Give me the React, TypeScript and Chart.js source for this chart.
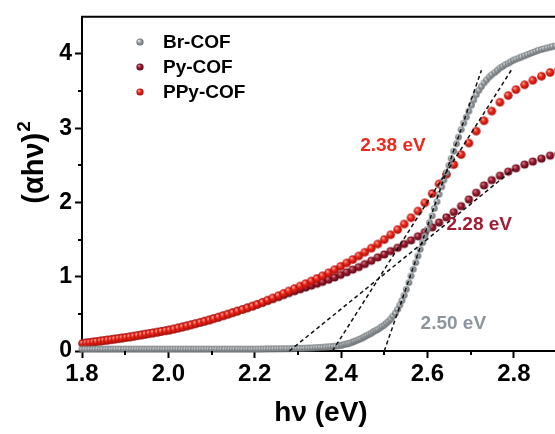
import React, { useEffect, useRef } from 'react';
import { Chart, registerables } from 'chart.js';
Chart.register(...registerables);

// photon energies (eV) of the coloured series
const energy3 = [
  1.802, 1.810, 1.818, 1.826, 1.834, 1.843, 1.851, 1.859, 1.868, 1.876,
  1.885, 1.893, 1.902, 1.911, 1.920, 1.929, 1.938, 1.947, 1.956, 1.965,
  1.975, 1.984, 1.994, 2.003, 2.013, 2.023, 2.033, 2.043, 2.053, 2.063,
  2.074, 2.084, 2.095, 2.105, 2.116, 2.127, 2.138, 2.149, 2.160, 2.172,
  2.183, 2.195, 2.206, 2.218, 2.230, 2.242, 2.255, 2.267, 2.279, 2.292,
  2.305, 2.318, 2.331, 2.344, 2.357, 2.371, 2.385, 2.399, 2.413, 2.427,
  2.441, 2.455, 2.470, 2.485, 2.500, 2.515, 2.531, 2.546, 2.562, 2.578,
  2.594, 2.611, 2.627, 2.644, 2.661, 2.678, 2.696, 2.713, 2.731, 2.749,
  2.768, 2.787, 2.805, 2.825, 2.844, 2.864, 2.884, 2.904,
];

const ppyCOF = [
  0.102, 0.108, 0.114, 0.121, 0.127, 0.134, 0.141, 0.147, 0.154, 0.161,
  0.168, 0.175, 0.182, 0.190, 0.199, 0.208, 0.217, 0.226, 0.235, 0.244,
  0.254, 0.264, 0.274, 0.283, 0.296, 0.310, 0.324, 0.338, 0.353, 0.368,
  0.385, 0.401, 0.418, 0.436, 0.455, 0.475, 0.495, 0.516, 0.537, 0.559,
  0.581, 0.604, 0.627, 0.655, 0.685, 0.715, 0.745, 0.776, 0.808, 0.840,
  0.874, 0.907, 0.942, 0.977, 1.013, 1.053, 1.095, 1.140, 1.185, 1.232,
  1.280, 1.330, 1.385, 1.440, 1.500, 1.565, 1.635, 1.710, 1.795, 1.885,
  1.995, 2.120, 2.250, 2.380, 2.510, 2.645, 2.800, 2.960, 3.100, 3.230,
  3.350, 3.440, 3.520, 3.585, 3.645, 3.700, 3.750, 3.790,
];

const pyCOF = [
  0.102, 0.108, 0.114, 0.121, 0.127, 0.134, 0.141, 0.147, 0.154, 0.161,
  0.168, 0.175, 0.182, 0.190, 0.199, 0.208, 0.217, 0.226, 0.235, 0.244,
  0.254, 0.264, 0.274, 0.283, 0.296, 0.310, 0.324, 0.338, 0.353, 0.368,
  0.385, 0.401, 0.418, 0.436, 0.455, 0.475, 0.495, 0.516, 0.537, 0.559,
  0.581, 0.604, 0.627, 0.650, 0.675, 0.700, 0.727, 0.753, 0.780, 0.805,
  0.830, 0.855, 0.880, 0.905, 0.930, 0.960, 0.990, 1.025, 1.060, 1.095,
  1.130, 1.170, 1.215, 1.260, 1.300, 1.345, 1.390, 1.440, 1.490, 1.545,
  1.600, 1.665, 1.730, 1.800, 1.870, 1.950, 2.040, 2.130, 2.230, 2.300,
  2.360, 2.415, 2.460, 2.510, 2.550, 2.590, 2.630, 2.660,
];

// Br-COF, dense sampling
const brEnergyLow = [
  1.800, 1.806, 1.812, 1.818, 1.824, 1.830, 1.836, 1.842, 1.848, 1.854,
  1.860, 1.866, 1.872, 1.878, 1.884, 1.890, 1.896, 1.902, 1.908, 1.914,
  1.920, 1.926, 1.932, 1.938, 1.944, 1.950, 1.956, 1.962, 1.968, 1.974,
  1.980, 1.986, 1.992, 1.998, 2.004, 2.010, 2.016, 2.022, 2.028, 2.034,
  2.040, 2.046, 2.052, 2.058, 2.064, 2.070, 2.076, 2.082, 2.088, 2.094,
  2.100, 2.106, 2.112, 2.118, 2.124, 2.130, 2.136, 2.142, 2.148, 2.154,
  2.160, 2.166, 2.172, 2.178, 2.184, 2.190, 2.196, 2.202, 2.208, 2.214,
  2.220, 2.226, 2.232, 2.238, 2.244, 2.250, 2.256, 2.262, 2.268, 2.274,
  2.280, 2.286, 2.292, 2.298, 2.304, 2.310, 2.316, 2.322, 2.328, 2.334,
  2.340, 2.346, 2.352, 2.358, 2.364, 2.370, 2.376, 2.382, 2.388, 2.394,
  2.400,
];

const brCOFLow = [
  0.025, 0.025, 0.025, 0.025, 0.025, 0.025, 0.025, 0.025, 0.025, 0.025,
  0.025, 0.025, 0.025, 0.025, 0.025, 0.025, 0.025, 0.025, 0.025, 0.025,
  0.025, 0.025, 0.025, 0.025, 0.025, 0.025, 0.025, 0.025, 0.025, 0.025,
  0.025, 0.025, 0.025, 0.025, 0.025, 0.025, 0.025, 0.025, 0.025, 0.025,
  0.025, 0.025, 0.025, 0.025, 0.025, 0.025, 0.025, 0.025, 0.025, 0.025,
  0.025, 0.025, 0.025, 0.025, 0.025, 0.025, 0.025, 0.025, 0.025, 0.025,
  0.025, 0.025, 0.025, 0.025, 0.025, 0.025, 0.025, 0.025, 0.025, 0.026,
  0.026, 0.027, 0.027, 0.028, 0.028, 0.029, 0.029, 0.030, 0.030, 0.031,
  0.031, 0.032, 0.033, 0.034, 0.035, 0.036, 0.037, 0.039, 0.040, 0.042,
  0.044, 0.046, 0.048, 0.050, 0.053, 0.056, 0.059, 0.062, 0.066, 0.070,
  0.075,
];

const brEnergyHigh = [
  2.403, 2.408, 2.413, 2.417, 2.422, 2.427, 2.431, 2.436, 2.441, 2.446,
  2.451, 2.455, 2.460, 2.465, 2.470, 2.475, 2.480, 2.485, 2.490, 2.495,
  2.500, 2.505, 2.510, 2.515, 2.520, 2.526, 2.531, 2.536, 2.541, 2.546,
  2.551, 2.557, 2.562, 2.567, 2.573, 2.578, 2.583, 2.589, 2.594, 2.600,
  2.605, 2.611, 2.616, 2.622, 2.627, 2.633, 2.638, 2.644, 2.650, 2.655,
  2.661, 2.667, 2.672, 2.678, 2.684, 2.690, 2.696, 2.702, 2.707, 2.713,
  2.719, 2.725, 2.731, 2.737, 2.743, 2.749, 2.756, 2.762, 2.768, 2.774,
  2.780, 2.787, 2.793, 2.799, 2.805, 2.812, 2.818, 2.825, 2.831, 2.838,
  2.844, 2.851, 2.857, 2.864, 2.870, 2.877, 2.884, 2.890, 2.897, 2.904,
];

const brCOFHigh = [
  0.080, 0.090, 0.095, 0.100, 0.110, 0.120, 0.130, 0.140, 0.155, 0.165,
  0.180, 0.195, 0.210, 0.225, 0.240, 0.260, 0.275, 0.290, 0.310, 0.330,
  0.350, 0.375, 0.400, 0.430, 0.470, 0.510, 0.560, 0.620, 0.680, 0.750,
  0.830, 0.920, 1.010, 1.100, 1.190, 1.280, 1.370, 1.460, 1.550, 1.640,
  1.730, 1.820, 1.920, 2.010, 2.110, 2.210, 2.300, 2.400, 2.500, 2.590,
  2.690, 2.790, 2.880, 2.980, 3.070, 3.150, 3.230, 3.310, 3.380, 3.450,
  3.510, 3.560, 3.610, 3.650, 3.690, 3.720, 3.750, 3.780, 3.810, 3.830,
  3.855, 3.875, 3.895, 3.915, 3.930, 3.945, 3.960, 3.975, 3.990, 4.005,
  4.020, 4.035, 4.050, 4.060, 4.070, 4.080, 4.090, 4.100, 4.110, 4.120,
];

// Tauc-plot tangent lines (x-intercepts = band gaps)
const tangentBr = [{ x: 2.50, y: 0 }, { x: 2.725, y: 3.78 }];
const tangentPPy = [{ x: 2.38, y: 0 }, { x: 2.794, y: 3.78 }];
const tangentPy = [{ x: 2.28, y: 0 }, { x: 2.80, y: 2.45 }];

const seriesNames = ['Br-COF', 'Py-COF', 'PPy-COF'];
const gapLabels = [
  { text: '2.38 eV', x: 2.52, y: 2.77 },
  { text: '2.28 eV', x: 2.72, y: 1.70 },
  { text: '2.50 eV', x: 2.66, y: 0.37 },
];

const xTicks = [1.8, 2.0, 2.2, 2.4, 2.6, 2.8];
const yTicks = [0, 1, 2, 3, 4];
const xMinorTicks = [1.9, 2.1, 2.3, 2.5, 2.7];
const yMinorTicks = [0.5, 1.5, 2.5, 3.5];

const FONT = "'Liberation Sans', Arial, Helvetica, sans-serif";
const COLORS = {
  br: { base: '#9a9fa3', light: '#eef1f2', dark: '#676d71', text: '#8b959b' },
  py: { base: '#9c1c30', light: '#e08a98', dark: '#5a0714', text: '#a11d33' },
  ppy: { base: '#ee261b', light: '#ffb0a4', dark: '#a80c06', text: '#ee2a1f' },
};

function sphere(r: number, c: { base: string; light: string; dark: string }) {
  const cv = document.createElement('canvas');
  const s = Math.ceil(r * 2) + 2;
  cv.width = s;
  cv.height = s;
  const g = cv.getContext('2d')!;
  const cx = s / 2;
  const cy = s / 2;
  const grad = g.createRadialGradient(cx - r * 0.35, cy - r * 0.4, r * 0.05, cx, cy, r);
  grad.addColorStop(0, c.light);
  grad.addColorStop(0.45, c.base);
  grad.addColorStop(1, c.dark);
  g.fillStyle = grad;
  g.beginPath();
  g.arc(cx, cy, r, 0, Math.PI * 2);
  g.fill();
  return cv;
}

export default function App() {
  const ref = useRef<HTMLCanvasElement | null>(null);

  useEffect(() => {
    const canvas = ref.current!;
    const brDot = sphere(3.3, COLORS.br);
    const pyDot = sphere(4.1, COLORS.py);
    const ppyDot = sphere(4.3, COLORS.ppy);
    const legendDots = [sphere(3.6, COLORS.br), sphere(3.6, COLORS.py), sphere(3.6, COLORS.ppy)];

    const brData = [
      ...brCOFLow.map((y, i) => ({ x: brEnergyLow[i], y })),
      ...brCOFHigh.map((y, i) => ({ x: brEnergyHigh[i], y })),
    ];
    const pyData = pyCOF.map((y, i) => ({ x: energy3[i], y }));
    const ppyData = ppyCOF.map((y, i) => ({ x: energy3[i], y }));

    const dashed = {
      showLine: true,
      borderColor: '#111',
      borderWidth: 1.5,
      borderDash: [4, 3],
      pointRadius: 0,
      order: 0,
      clip: false as const,
    };

    const decor = {
      id: 'decor',
      afterDraw(chart: any) {
        const { ctx, chartArea, scales } = chart;
        const xs = scales.x;
        const ys = scales.y;
        ctx.save();
        ctx.strokeStyle = '#000';
        ctx.lineWidth = 2;
        ctx.beginPath();
        ctx.moveTo(chartArea.left - 1, chartArea.top);
        ctx.lineTo(chartArea.right + 2, chartArea.top);
        ctx.stroke();
        for (const v of xMinorTicks) {
          const px = Math.round(xs.getPixelForValue(v));
          ctx.beginPath();
          ctx.moveTo(px, chartArea.bottom);
          ctx.lineTo(px, chartArea.bottom + 4);
          ctx.stroke();
        }
        for (const v of yMinorTicks) {
          const py = Math.round(ys.getPixelForValue(v));
          ctx.beginPath();
          ctx.moveTo(chartArea.left, py);
          ctx.lineTo(chartArea.left - 4, py);
          ctx.stroke();
        }
        const rowsY = [42, 67, 92];
        ctx.font = `bold 19px ${FONT}`;
        ctx.textBaseline = 'middle';
        ctx.textAlign = 'left';
        seriesNames.forEach((name, i) => {
          const d = legendDots[i];
          ctx.drawImage(d, 140 - d.width / 2, rowsY[i] - d.height / 2);
          ctx.fillStyle = '#000';
          ctx.fillText(name, 163, rowsY[i] + 1);
        });
        const labelColors = [COLORS.ppy.text, COLORS.py.text, COLORS.br.text];
        ctx.font = `bold 19px ${FONT}`;
        ctx.textAlign = 'center';
        gapLabels.forEach((l, i) => {
          ctx.fillStyle = labelColors[i];
          ctx.fillText(l.text, xs.getPixelForValue(l.x), ys.getPixelForValue(l.y));
        });
        ctx.fillStyle = '#000';
        ctx.font = `bold 28px ${FONT}`;
        ctx.fillText('h\u03bd (eV)', 321, 413);
        ctx.translate(33, 163);
        ctx.rotate(-Math.PI / 2);
        const main = '(\u03b1h\u03bd)';
        ctx.font = `bold 29px ${FONT}`;
        const wMain = ctx.measureText(main).width;
        ctx.font = `bold 19px ${FONT}`;
        const wSup = ctx.measureText('2').width;
        const start = -(wMain + wSup) / 2;
        ctx.textAlign = 'left';
        ctx.textBaseline = 'alphabetic';
        ctx.font = `bold 29px ${FONT}`;
        ctx.fillText(main, start, 10);
        ctx.font = `bold 19px ${FONT}`;
        ctx.fillText('2', start + wMain + 1, -3);
        ctx.restore();
      },
    };

    const chart = new Chart(canvas, {
      type: 'scatter',
      data: {
        datasets: [
          { label: 'tBr', data: tangentBr, ...dashed },
          { label: 'tPPy', data: tangentPPy, ...dashed },
          { label: 'tPy', data: tangentPy, ...dashed },
          { label: seriesNames[0], data: brData, pointStyle: brDot as any, pointRadius: 3, order: 1, clip: false as const },
          { label: seriesNames[2], data: ppyData, pointStyle: ppyDot as any, pointRadius: 4, order: 2, clip: false as const },
          { label: seriesNames[1], data: pyData, pointStyle: pyDot as any, pointRadius: 4, order: 3, clip: false as const },
        ] as any,
      },
      options: {
        responsive: false,
        animation: false,
        devicePixelRatio: 1,
        events: [],
        layout: { padding: { left: 0, right: 3, top: 12, bottom: 0 } },
        plugins: { legend: { display: false }, tooltip: { enabled: false } },
        scales: {
          x: {
            type: 'linear',
            min: 1.8,
            max: 2.9,
            afterBuildTicks: (s: any) => {
              s.ticks = xTicks.map((v) => ({ value: v }));
            },
            afterFit: (s: any) => {
              s.height = 83;
            },
            ticks: {
              callback: (v: any) => Number(v).toFixed(1),
              font: { family: FONT, size: 24, weight: 'bold' },
              color: '#000',
              padding: 2,
              maxRotation: 0,
              autoSkip: false,
            },
            grid: { drawOnChartArea: false, drawTicks: true, tickLength: 7, tickWidth: 2, tickColor: '#000' },
            border: { display: true, color: '#000', width: 2 },
          },
          y: {
            type: 'linear',
            min: 0,
            max: 4.5,
            afterBuildTicks: (s: any) => {
              s.ticks = yTicks.map((v) => ({ value: v }));
            },
            afterFit: (s: any) => {
              s.width = 82;
            },
            ticks: {
              callback: (v: any) => String(v),
              font: { family: FONT, size: 23, weight: 'bold' },
              color: '#000',
              padding: 3,
              autoSkip: false,
            },
            grid: { drawOnChartArea: false, drawTicks: true, tickLength: 7, tickWidth: 2, tickColor: '#000' },
            border: { display: true, color: '#000', width: 2 },
          },
        },
      } as any,
      plugins: [decor],
    });
    return () => chart.destroy();
  }, []);

  return (
    <div style={{ position: 'fixed', left: 0, top: 0, width: 555, height: 434, overflow: 'hidden', background: '#fff' }}>
      <canvas ref={ref} width={562} height={434} style={{ display: 'block', width: 562, height: 434 }} />
    </div>
  );
}
